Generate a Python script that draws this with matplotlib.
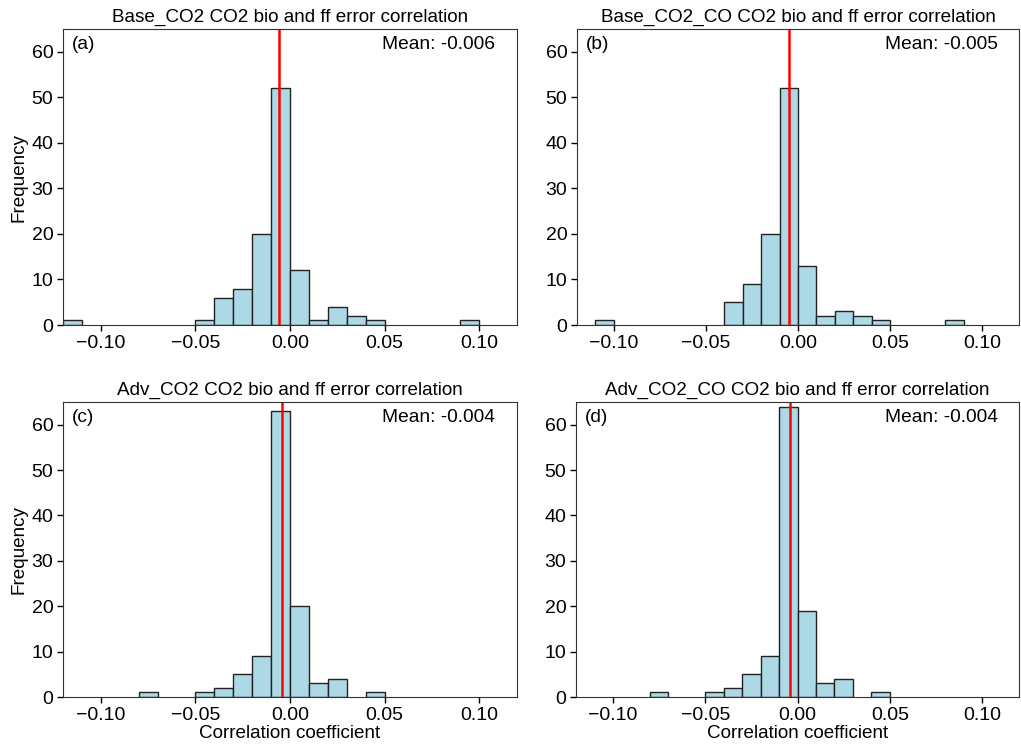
import matplotlib
matplotlib.use("Agg")
import matplotlib.pyplot as plt

plt.rcParams['font.family'] = ['Liberation Sans', 'DejaVu Sans']

titles = ["Base_CO2 CO2 bio and ff error correlation",
          "Base_CO2_CO CO2 bio and ff error correlation",
          "Adv_CO2 CO2 bio and ff error correlation",
          "Adv_CO2_CO CO2 bio and ff error correlation"]
panel_labels = ["(a)", "(b)", "(c)", "(d)"]
means = [-0.006, -0.005, -0.004, -0.004]

# histogram bins: lower edge of each non-empty 0.01-wide bin and its count
a_left = [-0.12, -0.05, -0.04, -0.03, -0.02, -0.01, 0.00, 0.01, 0.02, 0.03, 0.04, 0.09]
a_counts = [1, 1, 6, 8, 20, 52, 12, 1, 4, 2, 1, 1]
b_left = [-0.11, -0.04, -0.03, -0.02, -0.01, 0.00, 0.01, 0.02, 0.03, 0.04, 0.08]
b_counts = [1, 5, 9, 20, 52, 13, 2, 3, 2, 1, 1]
c_left = [-0.08, -0.05, -0.04, -0.03, -0.02, -0.01, 0.00, 0.01, 0.02, 0.04]
c_counts = [1, 1, 2, 5, 9, 63, 20, 3, 4, 1]
d_left = [-0.08, -0.05, -0.04, -0.03, -0.02, -0.01, 0.00, 0.01, 0.02, 0.04]
d_counts = [1, 1, 2, 5, 9, 64, 19, 3, 4, 1]
bin_width = 0.01

lefts = [a_left, b_left, c_left, d_left]
counts = [a_counts, b_counts, c_counts, d_counts]

W, H = 1021, 748
fig = plt.figure(figsize=(W / 100, H / 100), dpi=100)

# axes boxes in pixels: (left, top, right, bottom)
boxes = [(63, 29, 517, 325), (577, 29, 1019, 325),
         (63, 402, 517, 697), (576, 402, 1019, 697)]

for i, (l, t, r, b) in enumerate(boxes):
    ax = fig.add_axes([l / W, 1 - b / H, (r - l) / W, (b - t) / H])
    ax.bar(lefts[i], counts[i], width=bin_width, align='edge',
           color='lightblue', edgecolor='#222222', linewidth=1.0)
    ax.axvline(means[i], color='red', linewidth=1.8)
    ax.set_xlim(-0.12, 0.12)
    ax.set_ylim(0, 65)
    ax.set_xticks([-0.10, -0.05, 0.00, 0.05, 0.10])
    ax.set_yticks([0, 10, 20, 30, 40, 50, 60])
    ax.tick_params(labelsize=14, length=4, width=1, pad=3)
    for s in ax.spines.values():
        s.set_color('#333333')
    ax.set_title(titles[i], fontsize=13.6, pad=5)
    ax.text(0.02, 0.975, panel_labels[i], transform=ax.transAxes,
            ha='left', va='top', fontsize=13.8)
    ax.text(0.952, 0.975, f"Mean: {means[i]:.3f}", transform=ax.transAxes,
            ha='right', va='top', fontsize=13.8)
    if i % 2 == 0:
        ax.set_ylabel("Frequency", fontsize=13.6, labelpad=3)
    if i >= 2:
        ax.set_xlabel("Correlation coefficient", fontsize=13.6, labelpad=1)

fig.savefig("out.png", dpi=100)
